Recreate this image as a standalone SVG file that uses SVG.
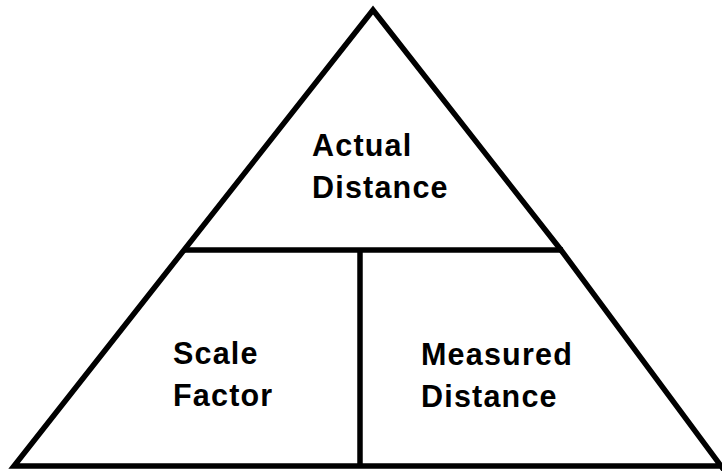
<svg xmlns="http://www.w3.org/2000/svg" width="722" height="471" viewBox="0 0 722 471">
<style>
.ln{fill:none;stroke:#000;stroke-width:5.5;stroke-linejoin:miter;stroke-linecap:butt}
.t{font-family:"Liberation Sans",Arial,sans-serif;font-weight:bold;font-size:30.5px;letter-spacing:1.2px;fill:#000}
</style>
<rect width="722" height="471" fill="#fff"/>
<g id="connectors">
<polyline class="ln" points="724,466 14,466 373,10 561,250 724,470"/>
<line class="ln" x1="184" y1="250" x2="563" y2="250"/>
<line class="ln" x1="360" y1="250" x2="360" y2="466"/>
</g>
<g id="actual-distance">
<text class="t" x="312" y="156">Actual</text>
<text class="t" x="312" y="198">Distance</text>
</g>
<g id="scale-factor">
<text class="t" x="173" y="364">Scale</text>
<text class="t" x="173" y="406">Factor</text>
</g>
<g id="measured-distance">
<text class="t" x="421" y="365">Measured</text>
<text class="t" x="421" y="407">Distance</text>
</g>
</svg>
